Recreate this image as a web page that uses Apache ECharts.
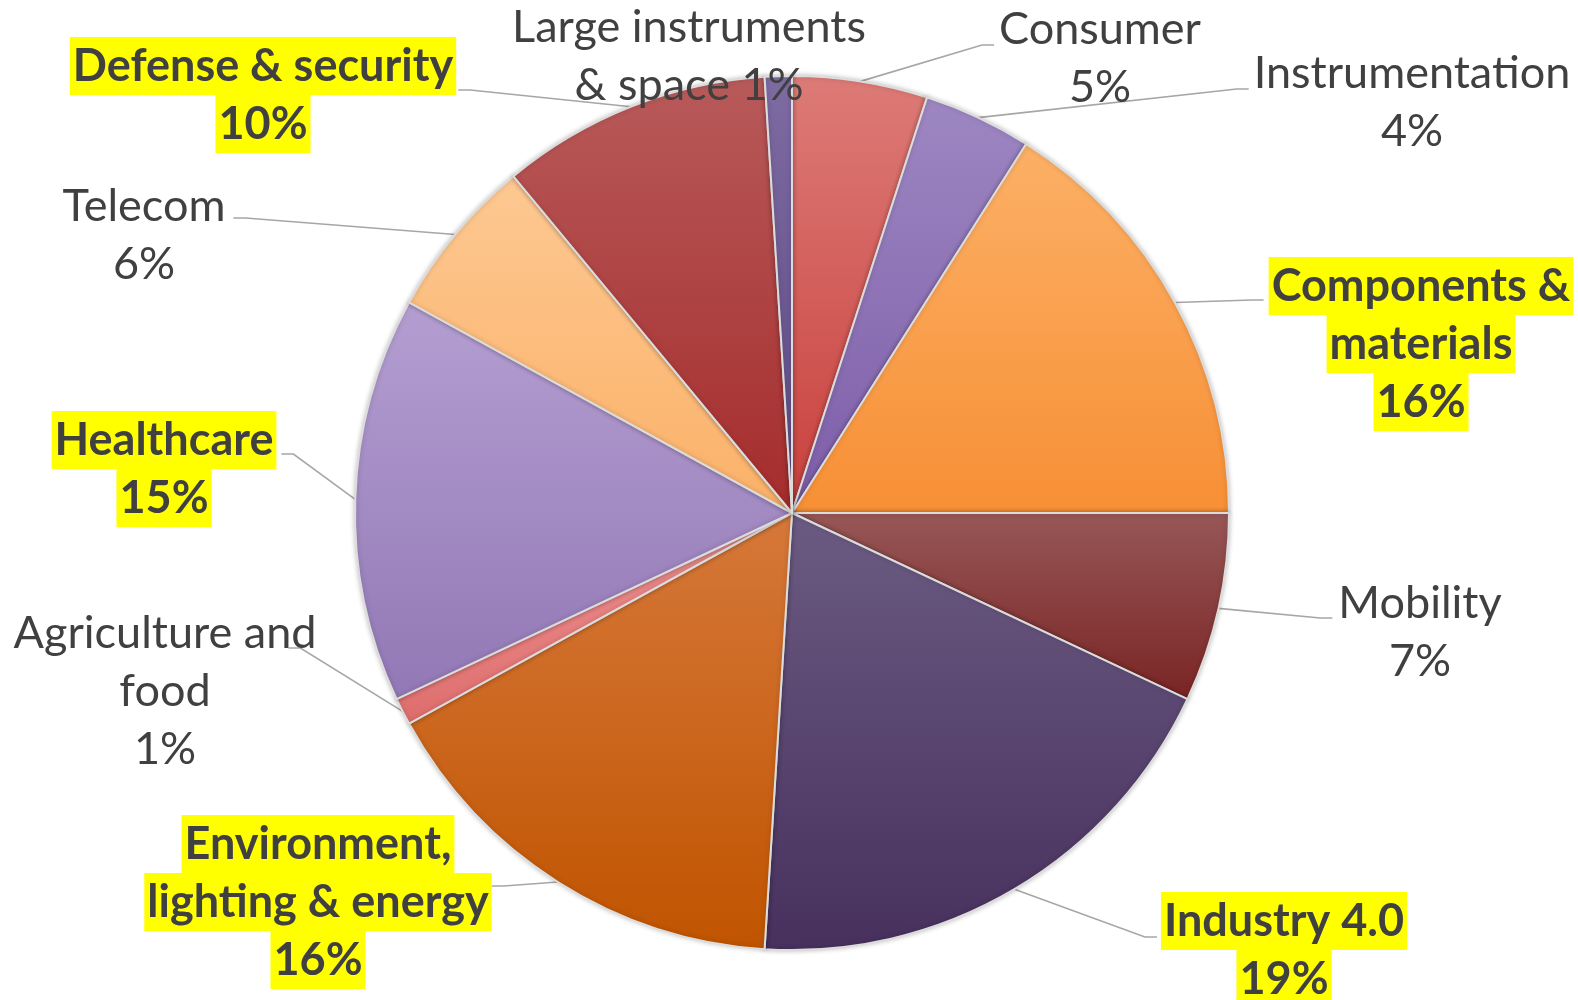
<!DOCTYPE html>
<html>
<head>
<meta charset="utf-8">
<script src="https://cdn.jsdelivr.net/npm/echarts@6/dist/echarts.min.js"></script>
<style>
  html, body { margin: 0; padding: 0; background: #ffffff; }
  #chart { width: 1578px; height: 1000px; }
</style>
</head>
<body>
<div id="chart"></div>
<script>
// Market segments, clockwise from 12 o'clock
const categories = [
  'Consumer',
  'Instrumentation',
  'Components & materials',
  'Mobility',
  'Industry 4.0',
  'Environment, lighting & energy',
  'Agriculture and food',
  'Healthcare',
  'Telecom',
  'Defense & security',
  'Large instruments & space'
];
// Share of each segment, %
const shares = [5, 4, 16, 7, 19, 16, 1, 15, 6, 10, 1];
// Segments whose labels are emphasised
const highlighted = [
  'Components & materials',
  'Industry 4.0',
  'Environment, lighting & energy',
  'Healthcare',
  'Defense & security'
];

// Slice fills, [top, bottom] of a soft vertical gradient
const sliceColors = [
  ['#dd7b77', '#c8403d'],
  ['#9d87c2', '#7d5da8'],
  ['#fcb066', '#f78f35'],
  ['#975757', '#7a2424'],
  ['#6b5b82', '#47305d'],
  ['#d6783a', '#c05400'],
  ['#f09494', '#de6d6d'],
  ['#b49ed1', '#9278b5'],
  ['#fdc892', '#fbb168'],
  ['#b85a5a', '#a52c2c'],
  ['#7e6ba2', '#5c4984']
];

// Wrapped label lines ({p} is replaced by the percentage)
const labelWraps = {
  'Components & materials': ['Components &', 'materials', '{p}'],
  'Environment, lighting & energy': ['Environment,', 'lighting & energy', '{p}'],
  'Agriculture and food': ['Agriculture and', 'food', '{p}'],
  'Large instruments & space': ['Large instruments', '& space {p}']
};

// Label block centres, leader side, vertical attach offset and gap
const labelSpots = {
  'Consumer':                       { x: 1100, y: 58,  side: 'left',  dy: -13, gap: 5 },
  'Instrumentation':                { x: 1412, y: 102, side: 'left',  dy: -13, gap: 5 },
  'Components & materials':         { x: 1421, y: 344, side: 'left',  dy: -44, gap: 5 },
  'Mobility':                       { x: 1420, y: 632, side: 'left',  dy: -14, gap: 6 },
  'Industry 4.0':                   { x: 1284, y: 950, side: 'left',  dy: -13, gap: 4 },
  'Environment, lighting & energy': { x: 318,  y: 902, side: 'right', dy: -16, gap: 0 },
  'Agriculture and food':           { x: 165,  y: 691, side: 'right', dy: -43, gap: -28 },
  'Healthcare':                     { x: 164,  y: 469, side: 'right', dy: -15, gap: 5 },
  'Telecom':                        { x: 144,  y: 235, side: 'right', dy: -17, gap: 8 },
  'Defense & security':             { x: 263,  y: 95,  side: 'right', dy: -5,  gap: 2 },
  'Large instruments & space':      { x: 689,  y: 56,  side: null }
};
const STUB = 12;
const FONT = 'Lato';
const FONT_SIZE = 45;
const LINE_H = 58;

const chart = echarts.init(document.getElementById('chart'), null, { renderer: 'canvas' });

const pieData = categories.map((name, i) => ({
  name: name,
  value: shares[i],
  itemStyle: {
    color: new echarts.graphic.LinearGradient(0, 0, 0, 1, [
      { offset: 0, color: sliceColors[i][0] },
      { offset: 1, color: sliceColors[i][1] }
    ])
  },
  labelLine: { show: labelSpots[name].side !== null }
}));

function formatLabel(params) {
  const pct = Math.round(params.percent) + '%';
  const lines = (labelWraps[params.name] || [params.name, '{p}']).map(l => l.replace('{p}', pct));
  const style = highlighted.indexOf(params.name) >= 0 ? 'h' : 'n';
  return lines.map(l => '{' + style + '|' + l + '}').join('\n');
}

chart.setOption({
  backgroundColor: '#ffffff',
  animation: false,
  series: [{
    type: 'pie',
    center: [792, 513],
    radius: 437,
    startAngle: 90,
    clockwise: true,
    avoidLabelOverlap: false,
    data: pieData,
    itemStyle: {
      borderColor: '#dcdcdc',
      borderWidth: 2,
      shadowBlur: 5,
      shadowColor: 'rgba(0,0,0,0.22)'
    },
    label: {
      show: true,
      position: 'outside',
      formatter: formatLabel,
      fontFamily: FONT,
      fontSize: FONT_SIZE,
      color: '#404040',
      lineHeight: LINE_H,
      rich: {
        n: { fontFamily: FONT, fontSize: FONT_SIZE, color: '#404040', lineHeight: LINE_H },
        h: {
          fontFamily: FONT, fontSize: FONT_SIZE, fontWeight: 'bold', color: '#404040',
          lineHeight: LINE_H, height: LINE_H, backgroundColor: '#ffff00', padding: [0, 3]
        }
      }
    },
    labelLine: {
      show: true,
      length: 20,
      length2: STUB,
      lineStyle: { color: '#a6a6a6', width: 1.6 }
    },
    labelLayout: function (params) {
      const name = categories[params.dataIndex];
      const spot = labelSpots[name];
      const out = { x: spot.x, y: spot.y, align: 'center', verticalAlign: 'middle' };
      if (spot.side) {
        const w = params.labelRect.width;
        const ey = spot.y + spot.dy;
        const ex = spot.side === 'left' ? spot.x - w / 2 - spot.gap : spot.x + w / 2 + spot.gap;
        const bx = spot.side === 'left' ? ex - STUB : ex + STUB;
        out.labelLinePoints = [params.labelLinePoints[0], [bx, ey], [ex, ey]];
      }
      return out;
    }
  }]
});
</script>
</body>
</html>
